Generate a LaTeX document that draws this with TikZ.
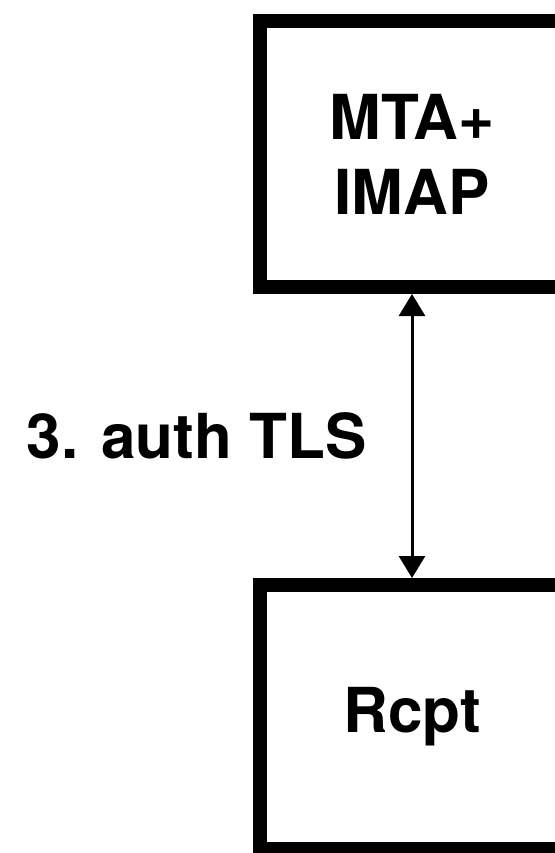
\documentclass[tikz,border=0pt]{standalone}
\usepackage{fontspec}
\setmainfont{TeX Gyre Heros}
\usetikzlibrary{positioning, arrows.meta}

\begin{document}
\begin{tikzpicture}[x=1pt, y=-1pt,
    hostbox/.style={draw, line width=14pt, minimum width=305pt, align=center,
                    font=\fontsize{62}{75}\selectfont\bfseries},
    link/.style={{Triangle[length=22pt,width=26pt]}-{Triangle[length=22pt,width=26pt]},
                 line width=3pt}]
  \useasboundingbox (0,0) rectangle (554,853);
  % ---- the two hosts ----
  \node[hostbox, minimum height=266pt] (mta) at (412,154) {MTA+\\IMAP};
  \node[hostbox, minimum height=264pt] (rcpt) at (412,717) {Rcpt};
  % ---- authenticated link between them ----
  \draw[link] (mta.south) -- (rcpt.north)
        node[midway, left=44pt, inner sep=0pt, font=\fontsize{62}{75}\selectfont\bfseries]
        (authlbl) {3. auth TLS};
\end{tikzpicture}
\end{document}
